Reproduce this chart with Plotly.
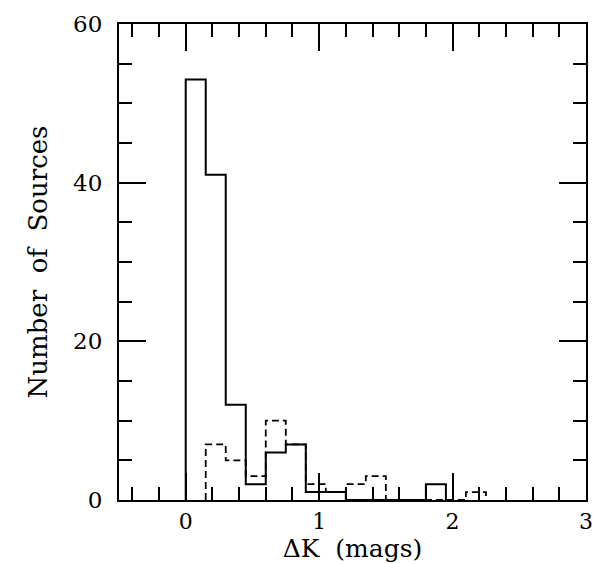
import plotly.graph_objects as go

# Histogram of K-band magnitude differences, bin width 0.15 mag
bin_width = 0.15

# Full sample (solid): first bin starts at 0.0
solid_start = 0.0
solid_counts = [53, 41, 12, 2, 6, 7, 1, 1, 0, 0, 0, 0, 2]

# Subsample (dashed): first bin starts at 0.15
dashed_start = 0.15
dashed_counts = [7, 5, 3, 10, 7, 2, 1, 2, 3, 0, 0, 0, 0, 1]

x_ticks = [0, 1, 2, 3]
y_ticks = [0, 20, 40, 60]


def step_outline(start, width, counts):
    """Return x, y vertices of a histogram outline that starts and ends on zero."""
    xs, ys = [start], [0]
    for i, c in enumerate(counts):
        left = start + i * width
        right = left + width
        xs += [left, right]
        ys += [c, c]
    xs.append(start + len(counts) * width)
    ys.append(0)
    return xs, ys


sx, sy = step_outline(solid_start, bin_width, solid_counts)
dx, dy = step_outline(dashed_start, bin_width, dashed_counts)

fig = go.Figure()
fig.add_trace(go.Scatter(x=dx, y=dy, mode="lines",
                         line=dict(color="black", width=1.8, dash="7px,4px"),
                         showlegend=False, hoverinfo="skip"))
fig.add_trace(go.Scatter(x=sx, y=sy, mode="lines",
                         line=dict(color="black", width=2),
                         showlegend=False, hoverinfo="skip"))

font = "DejaVu Serif, Liberation Serif, serif"

fig.update_layout(
    width=600, height=564,
    margin=dict(l=119, r=7, t=24, b=64),
    paper_bgcolor="white", plot_bgcolor="white",
    font=dict(family=font, color="black", size=22),
    xaxis=dict(
        range=[-0.5, 3.0], tickvals=x_ticks, ticks="inside", ticklen=27, tickwidth=1.6,
        tickcolor="black", mirror="allticks", showline=True, linecolor="black", linewidth=2,
        showgrid=False, zeroline=False,
        minor=dict(dtick=0.2, tick0=0, ticks="inside", ticklen=13, tickwidth=1.6,
                   tickcolor="black", showgrid=False),
        tickfont=dict(size=22), ticklabelstandoff=1,
        title=dict(text="ΔK  (mags)", font=dict(size=25), standoff=4),
    ),
    yaxis=dict(
        range=[0, 60], tickvals=y_ticks, ticks="inside", ticklen=27, tickwidth=1.6,
        tickcolor="black", mirror="allticks", showline=True, linecolor="black", linewidth=2,
        showgrid=False, zeroline=False,
        minor=dict(dtick=5, tick0=0, ticks="inside", ticklen=13, tickwidth=1.6,
                   tickcolor="black", showgrid=False),
        tickfont=dict(size=23), ticklabelstandoff=10,
        title=dict(text="Number  of  Sources", font=dict(size=26), standoff=18),
    ),
)

fig.write_html("out.html")
